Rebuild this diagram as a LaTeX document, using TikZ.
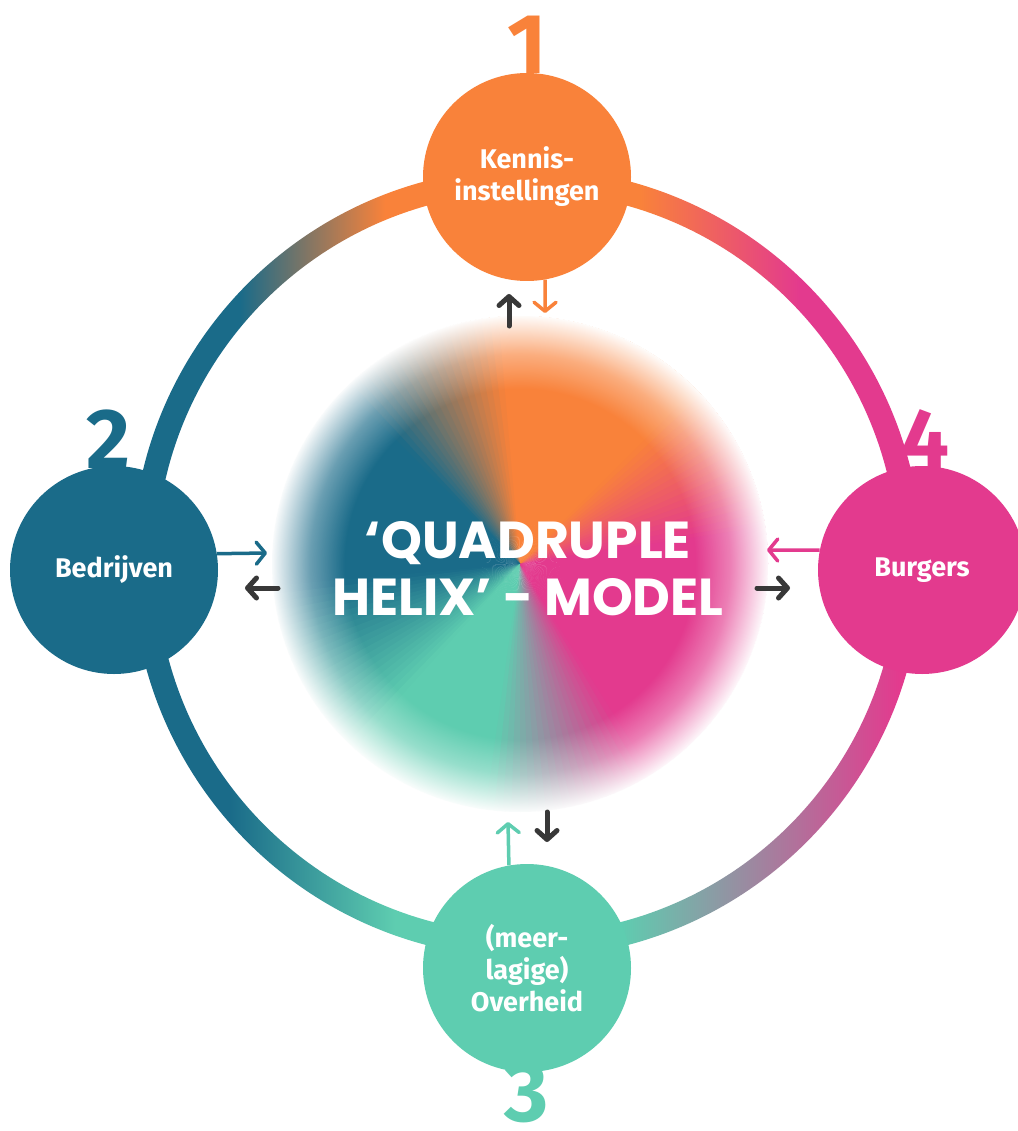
\documentclass[tikz,border=0pt]{standalone}
\usepackage{fontspec}
\setmainfont{Fira Sans}
\newfontfamily\titlefont{Poppins}
\usetikzlibrary{arrows.meta,fadings}

\definecolor{qorange}{HTML}{F9823A}
\definecolor{qblue}{HTML}{1A6B89}
\definecolor{qgreen}{HTML}{5ECDB0}
\definecolor{qpink}{HTML}{E33A8E}
\definecolor{qdark}{HTML}{383838}

\pgfdeclareradialshading{blobedgeshade}{\pgfpointorigin}{color(0bp)=(pgftransparent!100); color(17.5bp)=(pgftransparent!100); color(21bp)=(pgftransparent!65); color(25bp)=(pgftransparent!0); color(50bp)=(pgftransparent!0)}
\pgfdeclarefading{blobedge}{\pgfuseshading{blobedgeshade}}

\tikzset{
  bubble/.style={circle, minimum size=208pt, inner sep=0pt, text=white, align=center,
    font=\fontsize{27}{32}\selectfont\bfseries},
  digit/.style={anchor=base, inner sep=0pt, font=\fontsize{85}{85}\selectfont\bfseries},
  darr/.style={draw=qdark, line width=5pt, line cap=round, -{Straight Barb[length=9pt, width=20pt, round]}},
  carr/.style={line width=3.5pt, -{Straight Barb[length=9pt, width=22pt, round]}},
  titletext/.style={text=white, align=center, inner sep=0pt,
    font=\titlefont\fontsize{52}{57}\selectfont\bfseries}
}

\begin{document}
\begin{tikzpicture}[x=1pt, y=-1pt]
\useasboundingbox (0,0) rectangle (1017,1131);
\fill[white] (0,0) rectangle (1017,1131);

% ---- ring with gradient ----
\begin{scope}
  \clip (922,563) arc[start angle=0, end angle=360, radius=395]
        -- (898,563) arc[start angle=360, end angle=0, radius=371] -- cycle;
  \fill[qblue] (100,150) rectangle (240,563.5);
  \shade[left color=qblue, right color=qorange] (240,150) rectangle (385,563.5);
  \fill[qorange] (385,150) rectangle (640,563.5);
  \shade[left color=qorange, right color=qpink] (640,150) rectangle (800,563.5);
  \fill[qpink] (800,150) rectangle (960,563.5);
  \fill[qblue] (100,563) rectangle (230,980);
  \shade[left color=qblue, right color=qgreen] (230,563) rectangle (395,980);
  \fill[qgreen] (395,563) rectangle (620,980);
  \shade[left color=qgreen, right color=qpink] (620,563) rectangle (900,980);
  \fill[qpink] (900,563) rectangle (960,980);
\end{scope}

% ---- central blob: conic gradient + soft edge ----
\begin{scope}[shift={(520,564)}, yscale=-1]
  \foreach \sA/\cA/\sB/\cB in {8/qpink/45/qorange, 45/qorange/95/qorange, 95/qorange/135/qblue,
      135/qblue/185/qblue, 185/qblue/228/qgreen, 228/qgreen/262/qgreen,
      262/qgreen/302/qpink, 302/qpink/368/qpink}{
    \pgfmathtruncatemacro\wn{max(1,round((\sB-\sA)/2))}
    \foreach \k in {1,...,\wn}{
      \pgfmathsetmacro\wa{\sA+(\k-1)*(\sB-\sA)/\wn}
      \pgfmathsetmacro\wb{\sA+\k*(\sB-\sA)/\wn+0.7}
      \pgfmathtruncatemacro\wp{round(100*(\k-0.5)/\wn)}
      \fill[\cB!\wp!\cA] (0,0) -- (\wa:248) arc[start angle=\wa, end angle=\wb, radius=248] -- cycle;
    }
  }
  \fill[white, path fading=blobedge] (0,0) circle[radius=249];
\end{scope}

% ---- actor circles ----
\node[bubble, fill=qorange] (kennis) at (527,177) {Kennis-\\instellingen};
\node[bubble, fill=qblue] (bedr) at (114,570) {Bedrijven};
\node[bubble, fill=qpink] (burg) at (922,570) {Burgers};
\node[bubble, fill=qgreen] (over) at (527,968) {(meer-\\lagige)\\Overheid};

% ---- digits ----
\node[digit, text=qorange] (d1) at (527,74) {1};
\node[digit, text=qblue] (d2) at (108,468) {2};
\node[digit, text=qpink] (d4) at (925,468) {4};
\node[digit, text=qgreen] (d3) at (527,1121) {3};

% ---- title ----
\node[titletext] (title) at (528,569) {‘QUADRUPLE\\HELIX’ - MODEL};

% ---- arrow end points ----
\coordinate (ktip) at (545,313);
\coordinate (kup0) at (509,326);
\coordinate (kup1) at (509,294);
\coordinate (btip) at (267,553);
\coordinate (bl0) at (278,588);
\coordinate (bl1) at (245,588);
\coordinate (ptip) at (767,550);
\coordinate (pr0) at (757,588);
\coordinate (pr1) at (790,588);
\coordinate (gtip) at (508,822);
\coordinate (gd0) at (547,812);
\coordinate (gd1) at (547,842);

% ---- arrows ----
\draw[carr, qorange] (kennis.-80) -- (ktip);
\draw[darr] (kup0) -- (kup1);
\draw[carr, qblue] (bedr.9.4) -- (btip);
\draw[darr] (bl0) -- (bl1);
\draw[carr, qpink] (burg.169) -- (ptip);
\draw[darr] (pr0) -- (pr1);
\draw[carr, qgreen] (over.100.5) -- (gtip);
\draw[darr] (gd0) -- (gd1);
\end{tikzpicture}
\end{document}
